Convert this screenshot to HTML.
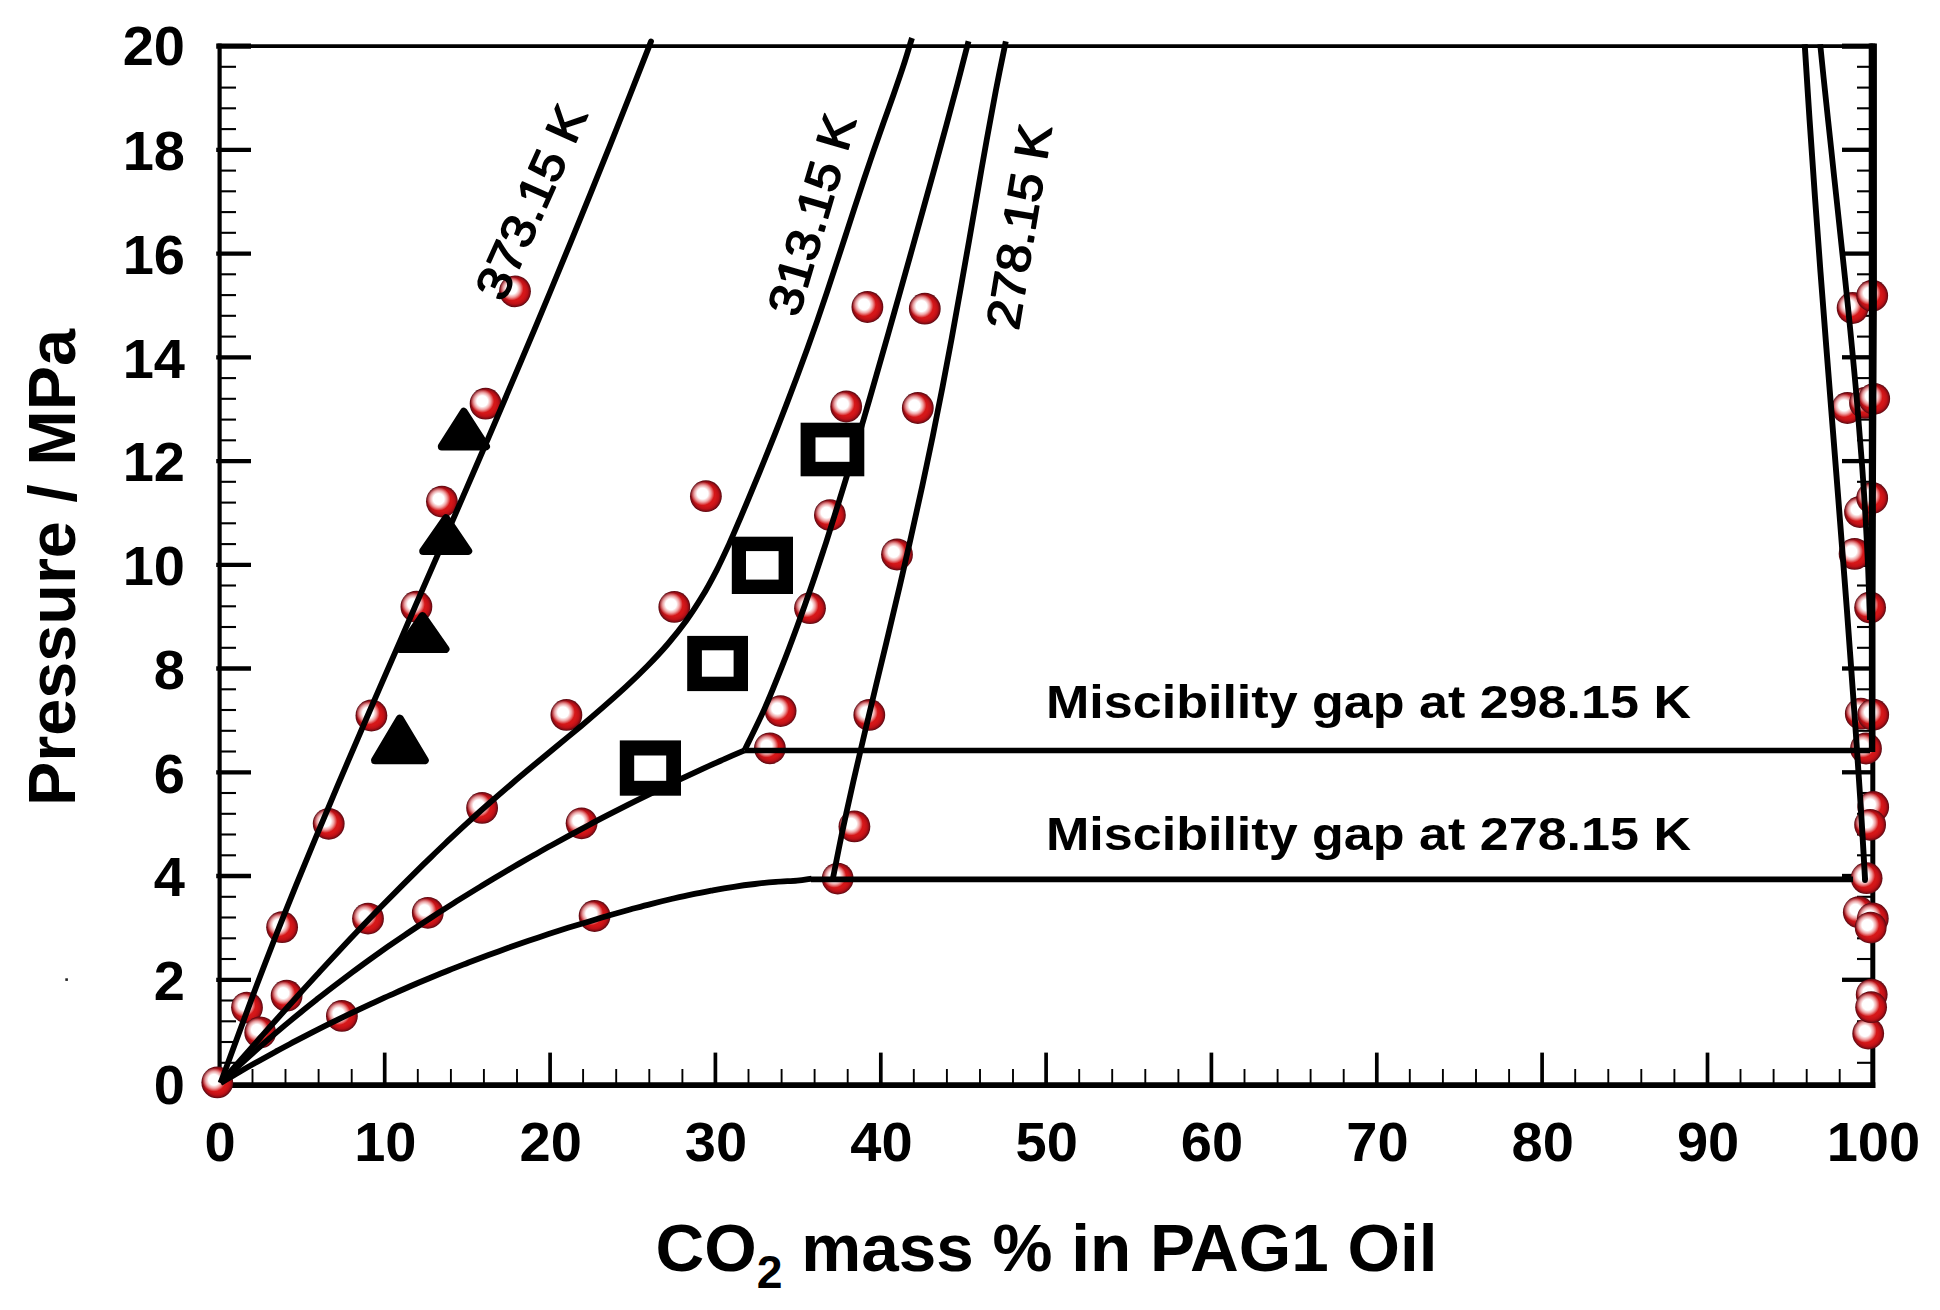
<!DOCTYPE html>
<html lang="en"><head><meta charset="utf-8"><title>CO2 solubility in PAG1 oil</title>
<style>html,body{margin:0;padding:0;background:#fff}svg{display:block}text{font-family:"Liberation Sans",Arial,Helvetica,sans-serif;font-weight:bold;fill:#000}</style>
</head><body>
<svg width="1940" height="1310" viewBox="0 0 1940 1310">
<defs><radialGradient id="g" cx="50%" cy="50%" r="50%"><stop offset="0" stop-color="#de1c1c"/><stop offset="0.62" stop-color="#d41618"/><stop offset="0.80" stop-color="#bd1016"/><stop offset="0.91" stop-color="#8c0c14"/><stop offset="1" stop-color="#540810"/></radialGradient><radialGradient id="h" cx="50%" cy="50%" r="50%"><stop offset="0" stop-color="#fff" stop-opacity="1"/><stop offset="0.46" stop-color="#fff" stop-opacity="1"/><stop offset="0.72" stop-color="#fff" stop-opacity="0.6"/><stop offset="1" stop-color="#fff" stop-opacity="0"/></radialGradient><g id="m"><circle r="15.9" fill="url(#g)"/><circle cx="-3.3" cy="-2.6" r="11.8" fill="url(#h)"/></g></defs>
<rect width="1940" height="1310" fill="#fff"/>
<g stroke="#000" fill="none" stroke-linecap="butt">
<line x1="219.6" y1="43.6" x2="219.6" y2="1087.9" stroke-width="4.2"/>
<line x1="1872.8" y1="43.6" x2="1872.8" y2="1087.9" stroke-width="5"/>
<line x1="217.5" y1="46.1" x2="1875.3" y2="46.1" stroke-width="3.7"/>
<line x1="217.5" y1="1085.1" x2="1875.3" y2="1085.1" stroke-width="5.6"/>
<line x1="219.6" y1="1062.8" x2="236" y2="1062.8" stroke-width="2.1"/>
<line x1="1872.8" y1="1062.8" x2="1857" y2="1062.8" stroke-width="2.1"/>
<line x1="219.6" y1="1042.0" x2="236" y2="1042.0" stroke-width="2.1"/>
<line x1="1872.8" y1="1042.0" x2="1857" y2="1042.0" stroke-width="2.1"/>
<line x1="219.6" y1="1021.3" x2="236" y2="1021.3" stroke-width="2.1"/>
<line x1="1872.8" y1="1021.3" x2="1857" y2="1021.3" stroke-width="2.1"/>
<line x1="219.6" y1="1000.5" x2="236" y2="1000.5" stroke-width="2.1"/>
<line x1="1872.8" y1="1000.5" x2="1857" y2="1000.5" stroke-width="2.1"/>
<line x1="216.2" y1="979.8" x2="251" y2="979.8" stroke-width="4.3"/>
<line x1="1872.8" y1="979.8" x2="1842" y2="979.8" stroke-width="4.3"/>
<line x1="219.6" y1="959.0" x2="236" y2="959.0" stroke-width="2.1"/>
<line x1="1872.8" y1="959.0" x2="1857" y2="959.0" stroke-width="2.1"/>
<line x1="219.6" y1="938.3" x2="236" y2="938.3" stroke-width="2.1"/>
<line x1="1872.8" y1="938.3" x2="1857" y2="938.3" stroke-width="2.1"/>
<line x1="219.6" y1="917.5" x2="236" y2="917.5" stroke-width="2.1"/>
<line x1="1872.8" y1="917.5" x2="1857" y2="917.5" stroke-width="2.1"/>
<line x1="219.6" y1="896.8" x2="236" y2="896.8" stroke-width="2.1"/>
<line x1="1872.8" y1="896.8" x2="1857" y2="896.8" stroke-width="2.1"/>
<line x1="216.2" y1="876.0" x2="251" y2="876.0" stroke-width="4.3"/>
<line x1="1872.8" y1="876.0" x2="1842" y2="876.0" stroke-width="4.3"/>
<line x1="219.6" y1="855.3" x2="236" y2="855.3" stroke-width="2.1"/>
<line x1="1872.8" y1="855.3" x2="1857" y2="855.3" stroke-width="2.1"/>
<line x1="219.6" y1="834.5" x2="236" y2="834.5" stroke-width="2.1"/>
<line x1="1872.8" y1="834.5" x2="1857" y2="834.5" stroke-width="2.1"/>
<line x1="219.6" y1="813.8" x2="236" y2="813.8" stroke-width="2.1"/>
<line x1="1872.8" y1="813.8" x2="1857" y2="813.8" stroke-width="2.1"/>
<line x1="219.6" y1="793.0" x2="236" y2="793.0" stroke-width="2.1"/>
<line x1="1872.8" y1="793.0" x2="1857" y2="793.0" stroke-width="2.1"/>
<line x1="216.2" y1="772.3" x2="251" y2="772.3" stroke-width="4.3"/>
<line x1="1872.8" y1="772.3" x2="1842" y2="772.3" stroke-width="4.3"/>
<line x1="219.6" y1="751.5" x2="236" y2="751.5" stroke-width="2.1"/>
<line x1="1872.8" y1="751.5" x2="1857" y2="751.5" stroke-width="2.1"/>
<line x1="219.6" y1="730.8" x2="236" y2="730.8" stroke-width="2.1"/>
<line x1="1872.8" y1="730.8" x2="1857" y2="730.8" stroke-width="2.1"/>
<line x1="219.6" y1="710.0" x2="236" y2="710.0" stroke-width="2.1"/>
<line x1="1872.8" y1="710.0" x2="1857" y2="710.0" stroke-width="2.1"/>
<line x1="219.6" y1="689.3" x2="236" y2="689.3" stroke-width="2.1"/>
<line x1="1872.8" y1="689.3" x2="1857" y2="689.3" stroke-width="2.1"/>
<line x1="216.2" y1="668.5" x2="251" y2="668.5" stroke-width="4.3"/>
<line x1="1872.8" y1="668.5" x2="1842" y2="668.5" stroke-width="4.3"/>
<line x1="219.6" y1="647.8" x2="236" y2="647.8" stroke-width="2.1"/>
<line x1="1872.8" y1="647.8" x2="1857" y2="647.8" stroke-width="2.1"/>
<line x1="219.6" y1="627.0" x2="236" y2="627.0" stroke-width="2.1"/>
<line x1="1872.8" y1="627.0" x2="1857" y2="627.0" stroke-width="2.1"/>
<line x1="219.6" y1="606.3" x2="236" y2="606.3" stroke-width="2.1"/>
<line x1="1872.8" y1="606.3" x2="1857" y2="606.3" stroke-width="2.1"/>
<line x1="219.6" y1="585.5" x2="236" y2="585.5" stroke-width="2.1"/>
<line x1="1872.8" y1="585.5" x2="1857" y2="585.5" stroke-width="2.1"/>
<line x1="216.2" y1="564.8" x2="251" y2="564.8" stroke-width="4.3"/>
<line x1="1872.8" y1="564.8" x2="1842" y2="564.8" stroke-width="4.3"/>
<line x1="219.6" y1="544.1" x2="236" y2="544.1" stroke-width="2.1"/>
<line x1="1872.8" y1="544.1" x2="1857" y2="544.1" stroke-width="2.1"/>
<line x1="219.6" y1="523.3" x2="236" y2="523.3" stroke-width="2.1"/>
<line x1="1872.8" y1="523.3" x2="1857" y2="523.3" stroke-width="2.1"/>
<line x1="219.6" y1="502.6" x2="236" y2="502.6" stroke-width="2.1"/>
<line x1="1872.8" y1="502.6" x2="1857" y2="502.6" stroke-width="2.1"/>
<line x1="219.6" y1="481.8" x2="236" y2="481.8" stroke-width="2.1"/>
<line x1="1872.8" y1="481.8" x2="1857" y2="481.8" stroke-width="2.1"/>
<line x1="216.2" y1="461.1" x2="251" y2="461.1" stroke-width="4.3"/>
<line x1="1872.8" y1="461.1" x2="1842" y2="461.1" stroke-width="4.3"/>
<line x1="219.6" y1="440.3" x2="236" y2="440.3" stroke-width="2.1"/>
<line x1="1872.8" y1="440.3" x2="1857" y2="440.3" stroke-width="2.1"/>
<line x1="219.6" y1="419.6" x2="236" y2="419.6" stroke-width="2.1"/>
<line x1="1872.8" y1="419.6" x2="1857" y2="419.6" stroke-width="2.1"/>
<line x1="219.6" y1="398.8" x2="236" y2="398.8" stroke-width="2.1"/>
<line x1="1872.8" y1="398.8" x2="1857" y2="398.8" stroke-width="2.1"/>
<line x1="219.6" y1="378.1" x2="236" y2="378.1" stroke-width="2.1"/>
<line x1="1872.8" y1="378.1" x2="1857" y2="378.1" stroke-width="2.1"/>
<line x1="216.2" y1="357.3" x2="251" y2="357.3" stroke-width="4.3"/>
<line x1="1872.8" y1="357.3" x2="1842" y2="357.3" stroke-width="4.3"/>
<line x1="219.6" y1="336.6" x2="236" y2="336.6" stroke-width="2.1"/>
<line x1="1872.8" y1="336.6" x2="1857" y2="336.6" stroke-width="2.1"/>
<line x1="219.6" y1="315.8" x2="236" y2="315.8" stroke-width="2.1"/>
<line x1="1872.8" y1="315.8" x2="1857" y2="315.8" stroke-width="2.1"/>
<line x1="219.6" y1="295.1" x2="236" y2="295.1" stroke-width="2.1"/>
<line x1="1872.8" y1="295.1" x2="1857" y2="295.1" stroke-width="2.1"/>
<line x1="219.6" y1="274.3" x2="236" y2="274.3" stroke-width="2.1"/>
<line x1="1872.8" y1="274.3" x2="1857" y2="274.3" stroke-width="2.1"/>
<line x1="216.2" y1="253.6" x2="251" y2="253.6" stroke-width="4.3"/>
<line x1="1872.8" y1="253.6" x2="1842" y2="253.6" stroke-width="4.3"/>
<line x1="219.6" y1="232.8" x2="236" y2="232.8" stroke-width="2.1"/>
<line x1="1872.8" y1="232.8" x2="1857" y2="232.8" stroke-width="2.1"/>
<line x1="219.6" y1="212.1" x2="236" y2="212.1" stroke-width="2.1"/>
<line x1="1872.8" y1="212.1" x2="1857" y2="212.1" stroke-width="2.1"/>
<line x1="219.6" y1="191.3" x2="236" y2="191.3" stroke-width="2.1"/>
<line x1="1872.8" y1="191.3" x2="1857" y2="191.3" stroke-width="2.1"/>
<line x1="219.6" y1="170.6" x2="236" y2="170.6" stroke-width="2.1"/>
<line x1="1872.8" y1="170.6" x2="1857" y2="170.6" stroke-width="2.1"/>
<line x1="216.2" y1="149.8" x2="251" y2="149.8" stroke-width="4.3"/>
<line x1="1872.8" y1="149.8" x2="1842" y2="149.8" stroke-width="4.3"/>
<line x1="219.6" y1="129.1" x2="236" y2="129.1" stroke-width="2.1"/>
<line x1="1872.8" y1="129.1" x2="1857" y2="129.1" stroke-width="2.1"/>
<line x1="219.6" y1="108.3" x2="236" y2="108.3" stroke-width="2.1"/>
<line x1="1872.8" y1="108.3" x2="1857" y2="108.3" stroke-width="2.1"/>
<line x1="219.6" y1="87.6" x2="236" y2="87.6" stroke-width="2.1"/>
<line x1="1872.8" y1="87.6" x2="1857" y2="87.6" stroke-width="2.1"/>
<line x1="219.6" y1="66.8" x2="236" y2="66.8" stroke-width="2.1"/>
<line x1="1872.8" y1="66.8" x2="1857" y2="66.8" stroke-width="2.1"/>
<line x1="216.2" y1="46.2" x2="251" y2="46.2" stroke-width="5.2"/>
<line x1="1872.8" y1="46.2" x2="1842" y2="46.2" stroke-width="5.2"/>
<line x1="252.5" y1="1085.1" x2="252.5" y2="1069" stroke-width="1.9"/>
<line x1="285.5" y1="1085.1" x2="285.5" y2="1069" stroke-width="1.9"/>
<line x1="318.6" y1="1085.1" x2="318.6" y2="1069" stroke-width="1.9"/>
<line x1="351.7" y1="1085.1" x2="351.7" y2="1069" stroke-width="1.9"/>
<line x1="384.7" y1="1085.1" x2="384.7" y2="1052.6" stroke-width="3.7"/>
<line x1="417.8" y1="1085.1" x2="417.8" y2="1069" stroke-width="1.9"/>
<line x1="450.9" y1="1085.1" x2="450.9" y2="1069" stroke-width="1.9"/>
<line x1="483.9" y1="1085.1" x2="483.9" y2="1069" stroke-width="1.9"/>
<line x1="517.0" y1="1085.1" x2="517.0" y2="1069" stroke-width="1.9"/>
<line x1="550.1" y1="1085.1" x2="550.1" y2="1052.6" stroke-width="3.7"/>
<line x1="583.1" y1="1085.1" x2="583.1" y2="1069" stroke-width="1.9"/>
<line x1="616.2" y1="1085.1" x2="616.2" y2="1069" stroke-width="1.9"/>
<line x1="649.3" y1="1085.1" x2="649.3" y2="1069" stroke-width="1.9"/>
<line x1="682.4" y1="1085.1" x2="682.4" y2="1069" stroke-width="1.9"/>
<line x1="715.4" y1="1085.1" x2="715.4" y2="1052.6" stroke-width="3.7"/>
<line x1="748.5" y1="1085.1" x2="748.5" y2="1069" stroke-width="1.9"/>
<line x1="781.6" y1="1085.1" x2="781.6" y2="1069" stroke-width="1.9"/>
<line x1="814.6" y1="1085.1" x2="814.6" y2="1069" stroke-width="1.9"/>
<line x1="847.7" y1="1085.1" x2="847.7" y2="1069" stroke-width="1.9"/>
<line x1="880.8" y1="1085.1" x2="880.8" y2="1052.6" stroke-width="3.7"/>
<line x1="913.8" y1="1085.1" x2="913.8" y2="1069" stroke-width="1.9"/>
<line x1="946.9" y1="1085.1" x2="946.9" y2="1069" stroke-width="1.9"/>
<line x1="980.0" y1="1085.1" x2="980.0" y2="1069" stroke-width="1.9"/>
<line x1="1013.0" y1="1085.1" x2="1013.0" y2="1069" stroke-width="1.9"/>
<line x1="1046.1" y1="1085.1" x2="1046.1" y2="1052.6" stroke-width="3.7"/>
<line x1="1079.2" y1="1085.1" x2="1079.2" y2="1069" stroke-width="1.9"/>
<line x1="1112.2" y1="1085.1" x2="1112.2" y2="1069" stroke-width="1.9"/>
<line x1="1145.3" y1="1085.1" x2="1145.3" y2="1069" stroke-width="1.9"/>
<line x1="1178.4" y1="1085.1" x2="1178.4" y2="1069" stroke-width="1.9"/>
<line x1="1211.4" y1="1085.1" x2="1211.4" y2="1052.6" stroke-width="3.7"/>
<line x1="1244.5" y1="1085.1" x2="1244.5" y2="1069" stroke-width="1.9"/>
<line x1="1277.6" y1="1085.1" x2="1277.6" y2="1069" stroke-width="1.9"/>
<line x1="1310.6" y1="1085.1" x2="1310.6" y2="1069" stroke-width="1.9"/>
<line x1="1343.7" y1="1085.1" x2="1343.7" y2="1069" stroke-width="1.9"/>
<line x1="1376.8" y1="1085.1" x2="1376.8" y2="1052.6" stroke-width="3.7"/>
<line x1="1409.8" y1="1085.1" x2="1409.8" y2="1069" stroke-width="1.9"/>
<line x1="1442.9" y1="1085.1" x2="1442.9" y2="1069" stroke-width="1.9"/>
<line x1="1476.0" y1="1085.1" x2="1476.0" y2="1069" stroke-width="1.9"/>
<line x1="1509.1" y1="1085.1" x2="1509.1" y2="1069" stroke-width="1.9"/>
<line x1="1542.1" y1="1085.1" x2="1542.1" y2="1052.6" stroke-width="3.7"/>
<line x1="1575.2" y1="1085.1" x2="1575.2" y2="1069" stroke-width="1.9"/>
<line x1="1608.3" y1="1085.1" x2="1608.3" y2="1069" stroke-width="1.9"/>
<line x1="1641.3" y1="1085.1" x2="1641.3" y2="1069" stroke-width="1.9"/>
<line x1="1674.4" y1="1085.1" x2="1674.4" y2="1069" stroke-width="1.9"/>
<line x1="1707.5" y1="1085.1" x2="1707.5" y2="1052.6" stroke-width="3.7"/>
<line x1="1740.5" y1="1085.1" x2="1740.5" y2="1069" stroke-width="1.9"/>
<line x1="1773.6" y1="1085.1" x2="1773.6" y2="1069" stroke-width="1.9"/>
<line x1="1806.7" y1="1085.1" x2="1806.7" y2="1069" stroke-width="1.9"/>
<line x1="1839.7" y1="1085.1" x2="1839.7" y2="1069" stroke-width="1.9"/>
</g>
<use href="#m" x="217.3" y="1082.4"/>
<use href="#m" x="247" y="1007.6"/>
<use href="#m" x="260.2" y="1032.4"/>
<use href="#m" x="286.6" y="995.7"/>
<use href="#m" x="341.9" y="1015.9"/>
<use href="#m" x="282.1" y="927.2"/>
<use href="#m" x="368" y="918.6"/>
<use href="#m" x="427.8" y="912.8"/>
<use href="#m" x="328.7" y="823.8"/>
<use href="#m" x="594.6" y="916"/>
<use href="#m" x="581.6" y="823.3"/>
<use href="#m" x="482.1" y="807.9"/>
<use href="#m" x="371.4" y="715.5"/>
<use href="#m" x="566.4" y="714.9"/>
<use href="#m" x="416.4" y="606.7"/>
<use href="#m" x="441.9" y="501.6"/>
<use href="#m" x="485.6" y="403.7"/>
<use href="#m" x="515" y="291.3"/>
<use href="#m" x="705.9" y="496.2"/>
<use href="#m" x="674.3" y="606.9"/>
<use href="#m" x="810" y="608.2"/>
<use href="#m" x="829.9" y="515.1"/>
<use href="#m" x="897" y="554.5"/>
<use href="#m" x="846.2" y="406.5"/>
<use href="#m" x="917.8" y="408"/>
<use href="#m" x="867.4" y="307"/>
<use href="#m" x="924.8" y="308.7"/>
<use href="#m" x="780.6" y="711.1"/>
<use href="#m" x="869.3" y="714.9"/>
<use href="#m" x="769.9" y="748.3"/>
<use href="#m" x="854.4" y="826.4"/>
<use href="#m" x="837.7" y="878.6"/>
<use href="#m" x="1852.6" y="308"/>
<use href="#m" x="1872.2" y="295.7"/>
<use href="#m" x="1847.4" y="408"/>
<use href="#m" x="1865" y="402.9"/>
<use href="#m" x="1874.2" y="398.8"/>
<use href="#m" x="1860" y="512"/>
<use href="#m" x="1872.2" y="498"/>
<use href="#m" x="1854.6" y="553.9"/>
<use href="#m" x="1870.1" y="607.5"/>
<use href="#m" x="1860.8" y="713.7"/>
<use href="#m" x="1873.2" y="714.7"/>
<use href="#m" x="1866" y="748.5"/>
<use href="#m" x="1873.2" y="807"/>
<use href="#m" x="1870.1" y="824.8"/>
<use href="#m" x="1866.6" y="878.2"/>
<use href="#m" x="1858.8" y="912.2"/>
<use href="#m" x="1872.8" y="918.4"/>
<use href="#m" x="1870.7" y="927.6"/>
<use href="#m" x="1871.7" y="994.6"/>
<use href="#m" x="1868.2" y="1033.6"/>
<use href="#m" x="1871.1" y="1007.2"/>
<path d="M744.5,750.5 H1870" stroke="#000" stroke-width="5.7" fill="none"/>
<path d="M811,879.4 H1853" stroke="#000" stroke-width="5.7" fill="none"/>
<path d="M220.6,1082.9 C223.6,1074.7 232.7,1050.0 238.8,1033.5 C244.9,1017.1 250.9,1000.6 257.1,984.2 C263.4,967.7 269.8,951.2 276.2,934.8 C282.7,918.3 289.3,901.9 296.0,885.4 C302.7,869.0 309.5,852.5 316.4,836.0 C323.3,819.6 330.2,803.1 337.2,786.7 C344.2,770.2 351.2,753.8 358.3,737.3 C365.4,720.8 372.5,704.4 379.7,687.9 C386.8,671.5 394.0,655.0 401.2,638.6 C408.3,622.1 415.5,605.6 422.7,589.2 C429.9,572.7 437.1,556.3 444.2,539.8 C451.4,523.4 458.5,506.9 465.7,490.4 C472.8,474.0 479.9,457.5 487.0,441.1 C494.1,424.6 501.1,408.2 508.1,391.7 C515.1,375.2 522.1,358.8 529.0,342.3 C536.0,325.9 542.9,309.4 549.7,293.0 C556.6,276.5 563.4,260.0 570.1,243.6 C576.9,227.1 583.6,210.7 590.3,194.2 C597.0,177.8 603.6,161.3 610.2,144.8 C616.8,128.4 623.3,111.9 629.8,95.5 C636.3,79.0 645.8,54.8 649.2,46.1 C652.6,37.4 650.2,43.6 650.4,43.1" fill="none" stroke="#000" stroke-width="5.8" stroke-linecap="butt" stroke-linejoin="round"/>
<path d="M220.6,1082.9 C223.9,1079.2 233.7,1067.9 240.3,1060.4 C246.8,1053.0 253.4,1045.5 260.0,1038.0 C266.6,1030.6 273.2,1023.1 279.9,1015.7 C286.5,1008.3 293.2,1000.9 299.9,993.5 C306.5,986.1 313.3,978.8 320.0,971.4 C326.7,964.1 333.5,956.8 340.3,949.5 C347.1,942.2 353.9,935.0 360.8,927.8 C367.7,920.6 374.6,913.4 381.5,906.3 C388.5,899.2 395.5,892.1 402.5,885.1 C409.5,878.1 416.6,871.1 423.7,864.1 C430.9,857.2 438.0,850.3 445.2,843.5 C452.5,836.7 459.7,829.9 467.1,823.2 C474.4,816.5 481.8,809.8 489.2,803.3 C496.7,796.7 504.2,790.2 511.8,783.7 C519.3,777.3 527.0,770.9 534.6,764.6 C542.3,758.2 550.0,751.9 557.6,745.5 C565.3,739.2 573.0,732.8 580.6,726.4 C588.3,720.0 595.9,713.5 603.4,706.9 C610.9,700.4 618.4,693.7 625.8,686.9 C633.1,680.1 640.4,673.1 647.4,666.0 C654.4,658.9 661.3,651.6 667.8,644.0 C674.2,636.5 680.4,628.8 686.2,620.8 C692.0,612.8 697.3,604.5 702.4,596.1 C707.5,587.7 712.1,579.0 716.6,570.3 C721.1,561.5 725.2,552.5 729.3,543.6 C733.4,534.6 737.2,525.4 741.1,516.3 C745.0,507.2 748.8,498.0 752.6,488.8 C756.5,479.5 760.3,470.3 764.1,461.0 C767.8,451.7 771.6,442.4 775.3,433.1 C779.0,423.8 782.6,414.4 786.2,405.1 C789.8,395.7 793.4,386.3 796.9,377.0 C800.4,367.6 803.9,358.2 807.3,348.8 C810.7,339.4 814.0,330.0 817.3,320.6 C820.5,311.2 823.7,301.8 826.9,292.4 C830.0,283.0 833.1,273.6 836.2,264.2 C839.3,254.8 842.3,245.4 845.4,236.0 C848.5,226.6 851.5,217.2 854.6,207.7 C857.7,198.3 860.8,188.9 863.9,179.5 C867.1,170.1 870.3,160.7 873.5,151.3 C876.8,141.8 880.1,132.4 883.4,123.0 C886.8,113.6 890.2,104.1 893.5,94.7 C896.8,85.3 900.1,75.8 903.2,66.4 C906.3,56.9 910.5,42.7 912.0,38.0" fill="none" stroke="#000" stroke-width="5.8" stroke-linecap="butt" stroke-linejoin="round"/>
<path d="M220.6,1082.9 C223.2,1080.4 231.0,1073.0 236.3,1068.1 C241.6,1063.2 246.9,1058.4 252.3,1053.6 C257.6,1048.8 263.0,1044.1 268.4,1039.4 C273.8,1034.7 279.3,1030.0 284.8,1025.4 C290.3,1020.8 295.8,1016.3 301.4,1011.7 C306.9,1007.2 312.5,1002.8 318.2,998.3 C323.8,993.9 329.4,989.5 335.1,985.2 C340.8,980.9 346.5,976.6 352.3,972.3 C358.0,968.0 363.8,963.8 369.6,959.6 C375.4,955.5 381.3,951.3 387.1,947.2 C393.0,943.1 398.9,939.1 404.8,935.1 C410.8,931.0 416.7,927.1 422.7,923.1 C428.7,919.2 434.7,915.3 440.7,911.4 C446.7,907.5 452.8,903.7 458.8,899.9 C464.9,896.1 471.0,892.3 477.1,888.6 C483.2,884.8 489.4,881.1 495.5,877.4 C501.7,873.8 507.9,870.1 514.1,866.5 C520.3,862.9 526.5,859.4 532.8,855.8 C539.0,852.3 545.3,848.7 551.6,845.3 C557.9,841.8 564.2,838.3 570.5,834.9 C576.8,831.5 583.1,828.1 589.5,824.7 C595.8,821.3 602.2,818.0 608.6,814.7 C615.0,811.4 621.4,808.1 627.8,804.9 C634.2,801.6 640.6,798.4 647.1,795.3 C653.5,792.1 660.0,789.0 666.4,785.8 C672.9,782.7 679.4,779.7 685.9,776.6 C692.3,773.6 698.8,770.6 705.3,767.6 C711.9,764.7 718.4,761.7 724.9,758.9 C731.4,756.0 741.2,751.7 744.5,750.3" fill="none" stroke="#000" stroke-width="5.8" stroke-linecap="butt" stroke-linejoin="round"/>
<path d="M744.5,750.3 C747.9,743.3 758.4,722.5 764.6,708.6 C770.8,694.7 776.3,680.8 781.8,666.9 C787.3,653.0 792.5,639.1 797.6,625.2 C802.7,611.3 807.6,597.4 812.4,583.5 C817.2,569.6 821.7,555.7 826.3,541.8 C830.8,527.9 835.1,514.0 839.4,500.1 C843.8,486.2 848.0,472.3 852.1,458.4 C856.3,444.5 860.4,430.6 864.4,416.7 C868.5,402.8 872.5,388.8 876.5,374.9 C880.5,361.0 884.5,347.1 888.4,333.2 C892.3,319.3 896.3,305.4 900.2,291.5 C904.1,277.6 908.0,263.7 911.9,249.8 C915.8,235.9 919.7,222.0 923.5,208.1 C927.4,194.2 931.3,180.3 935.1,166.4 C938.9,152.5 942.7,138.6 946.5,124.7 C950.2,110.8 954.0,96.9 957.7,83.0 C961.3,69.1 966.7,48.3 968.5,41.3" fill="none" stroke="#000" stroke-width="5.8" stroke-linecap="butt" stroke-linejoin="round"/>
<path d="M220.6,1082.9 C223.7,1081.1 232.8,1075.7 239.0,1072.2 C245.1,1068.6 251.3,1065.1 257.5,1061.7 C263.7,1058.2 269.9,1054.8 276.1,1051.4 C282.3,1048.0 288.6,1044.7 294.8,1041.4 C301.1,1038.1 307.4,1034.8 313.7,1031.6 C320.0,1028.4 326.3,1025.2 332.7,1022.1 C339.0,1019.0 345.4,1015.9 351.8,1012.8 C358.2,1009.8 364.6,1006.8 371.0,1003.8 C377.4,1000.9 383.8,997.9 390.3,995.1 C396.8,992.2 403.2,989.3 409.7,986.5 C416.2,983.7 422.7,981.0 429.3,978.3 C435.8,975.6 442.3,972.9 448.9,970.3 C455.5,967.6 462.0,965.1 468.6,962.5 C475.2,960.0 481.8,957.5 488.5,955.0 C495.1,952.6 501.8,950.2 508.4,947.8 C515.1,945.4 521.8,943.1 528.5,940.8 C535.2,938.6 541.9,936.3 548.6,934.1 C555.3,931.9 562.1,929.8 568.8,927.6 C575.6,925.5 582.4,923.4 589.2,921.4 C595.9,919.3 602.8,917.3 609.6,915.3 C616.4,913.4 623.2,911.4 630.1,909.5 C636.9,907.7 643.8,905.8 650.7,904.1 C657.5,902.3 664.4,900.6 671.3,899.0 C678.3,897.4 685.2,895.8 692.1,894.4 C699.0,892.9 706.0,891.6 712.9,890.3 C719.9,889.0 726.9,887.8 733.9,886.8 C740.9,885.7 747.9,884.8 754.9,884.0 C761.9,883.1 768.9,882.4 775.9,881.9 C783.0,881.3 791.2,881.1 797.1,880.6 C803.0,880.1 809.1,878.9 811.5,878.6" fill="none" stroke="#000" stroke-width="5.8" stroke-linecap="butt" stroke-linejoin="round"/>
<path d="M832.4,881.0 C834.1,872.8 838.9,848.1 842.3,831.6 C845.8,815.1 849.5,798.7 853.2,782.2 C857.0,765.7 860.8,749.3 864.7,732.8 C868.6,716.4 872.6,699.9 876.5,683.4 C880.5,667.0 884.5,650.5 888.4,634.0 C892.3,617.6 896.2,601.1 900.1,584.6 C903.9,568.2 907.7,551.7 911.4,535.2 C915.1,518.8 918.7,502.3 922.3,485.8 C925.8,469.4 929.3,452.9 932.7,436.5 C936.0,420.0 939.3,403.5 942.5,387.1 C945.7,370.6 948.8,354.1 951.8,337.7 C954.9,321.2 957.8,304.7 960.7,288.3 C963.7,271.8 966.5,255.3 969.4,238.9 C972.3,222.4 975.1,205.9 978.0,189.5 C980.8,173.0 983.7,156.6 986.7,140.1 C989.7,123.6 992.7,107.2 995.8,90.7 C999.0,74.2 1004.1,49.5 1005.8,41.3" fill="none" stroke="#000" stroke-width="5.8" stroke-linecap="butt" stroke-linejoin="round"/>
<path d="M1804.7,44.3 C1805.5,57.0 1807.9,94.9 1809.6,120.3 C1811.3,145.6 1813.1,170.9 1814.9,196.2 C1816.7,221.6 1818.6,246.9 1820.5,272.2 C1822.5,297.5 1824.4,322.9 1826.4,348.2 C1828.4,373.5 1830.4,398.8 1832.4,424.2 C1834.4,449.5 1836.4,474.8 1838.4,500.1 C1840.4,525.5 1842.4,550.8 1844.3,576.1 C1846.3,601.4 1848.2,626.8 1850.0,652.1 C1851.9,677.4 1853.7,702.7 1855.5,728.1 C1857.3,753.4 1859.0,778.7 1860.6,804.0 C1862.2,829.4 1864.4,867.3 1865.1,880.0" fill="none" stroke="#000" stroke-width="5.9" stroke-linecap="butt" stroke-linejoin="round"/>
<circle cx="1865" cy="880" r="2.9" fill="#000"/>
<path d="M1820.2,44.3 C1821.1,53.0 1823.7,79.2 1825.6,96.6 C1827.4,114.1 1829.3,131.5 1831.2,149.0 C1833.0,166.4 1834.9,183.9 1836.8,201.3 C1838.7,218.8 1840.6,236.2 1842.4,253.6 C1844.3,271.1 1846.1,288.5 1847.9,306.0 C1849.6,323.4 1851.4,340.9 1853.0,358.3 C1854.7,375.8 1856.3,393.2 1857.7,410.7 C1859.2,428.1 1860.6,445.5 1861.9,463.0 C1863.2,480.4 1864.4,497.9 1865.4,515.3 C1866.4,532.8 1867.3,550.2 1868.1,567.7 C1868.8,585.1 1869.6,611.3 1869.9,620.0" fill="none" stroke="#000" stroke-width="5.8" stroke-linecap="butt" stroke-linejoin="round"/>
<path d="M1868.7,43.6 L1876.9,43.6 L1876.9,300 L1875.3,620 L1875.3,752 L1868.9,752 Z" fill="#000"/>
<path d="M463.8,411.8 L486,446.5 L441.8,446.5 Z" fill="#000" stroke="#000" stroke-width="8" stroke-linejoin="round"/>
<path d="M446,518.3000000000001 L468.2,551 L423.2,551 Z" fill="#000" stroke="#000" stroke-width="8" stroke-linejoin="round"/>
<path d="M422.5,616.1 L445.5,649.1 L399.9,649.1 Z" fill="#000" stroke="#000" stroke-width="8" stroke-linejoin="round"/>
<path d="M399.8,718.6 L424.8,760.3 L375,760.3 Z" fill="#000" stroke="#000" stroke-width="8" stroke-linejoin="round"/>
<rect x="800.6" y="422.7" width="63.7" height="53.6" fill="#000"/>
<rect x="815.5" y="437.4" width="34.0" height="24.4" fill="#fff"/>
<rect x="731.8" y="536.7" width="61.2" height="57.3" fill="#000"/>
<rect x="746" y="551.1" width="32.6" height="28.5" fill="#fff"/>
<rect x="687.2" y="635.9" width="60.8" height="55.2" fill="#000"/>
<rect x="701.9" y="650.3" width="31.7" height="26.4" fill="#fff"/>
<rect x="619.8" y="740.4" width="61.2" height="55.3" fill="#000"/>
<rect x="634.2" y="755.5" width="32.0" height="25.3" fill="#fff"/>
<text x="185" y="1103.8" font-size="56" text-anchor="end">0</text>
<text x="185" y="1000.1" font-size="56" text-anchor="end">2</text>
<text x="185" y="896.3" font-size="56" text-anchor="end">4</text>
<text x="185" y="792.6" font-size="56" text-anchor="end">6</text>
<text x="185" y="688.8" font-size="56" text-anchor="end">8</text>
<text x="185" y="585.1" font-size="56" text-anchor="end">10</text>
<text x="185" y="481.4" font-size="56" text-anchor="end">12</text>
<text x="185" y="377.6" font-size="56" text-anchor="end">14</text>
<text x="185" y="273.9" font-size="56" text-anchor="end">16</text>
<text x="185" y="170.1" font-size="56" text-anchor="end">18</text>
<text x="185" y="64.9" font-size="56" text-anchor="end">20</text>
<text x="220.0" y="1160.8" font-size="56" text-anchor="middle">0</text>
<text x="385.3" y="1160.8" font-size="56" text-anchor="middle">10</text>
<text x="550.7" y="1160.8" font-size="56" text-anchor="middle">20</text>
<text x="716.0" y="1160.8" font-size="56" text-anchor="middle">30</text>
<text x="881.4" y="1160.8" font-size="56" text-anchor="middle">40</text>
<text x="1046.7" y="1160.8" font-size="56" text-anchor="middle">50</text>
<text x="1212.0" y="1160.8" font-size="56" text-anchor="middle">60</text>
<text x="1377.4" y="1160.8" font-size="56" text-anchor="middle">70</text>
<text x="1542.7" y="1160.8" font-size="56" text-anchor="middle">80</text>
<text x="1708.1" y="1160.8" font-size="56" text-anchor="middle">90</text>
<text x="1873.4" y="1160.8" font-size="56" text-anchor="middle">100</text>
<text x="1046.5" y="1271" font-size="67" text-anchor="middle" textLength="782" lengthAdjust="spacingAndGlyphs">CO<tspan font-size="46" dy="17">2</tspan><tspan dy="-17"> mass % in PAG1 Oil</tspan></text>
<text transform="translate(75.4,567.5) rotate(-90)" font-size="67" text-anchor="middle" textLength="477" lengthAdjust="spacingAndGlyphs">Pressure / MPa</text>
<text x="1046" y="717.8" font-size="47" textLength="645" lengthAdjust="spacingAndGlyphs">Miscibility gap at 298.15 K</text>
<text x="1046" y="850.3" font-size="47" textLength="645" lengthAdjust="spacingAndGlyphs">Miscibility gap at 278.15 K</text>
<text transform="translate(503.8,303) rotate(-65.9)" font-size="47" style="font-weight:normal" stroke="#000" stroke-width="1.6" stroke-linejoin="round" textLength="206.5" lengthAdjust="spacingAndGlyphs">373.15 K</text>
<text transform="translate(798.2,318.3) rotate(-73.6)" font-size="47" style="font-weight:normal" stroke="#000" stroke-width="1.6" stroke-linejoin="round" textLength="206.5" lengthAdjust="spacingAndGlyphs">313.15 K</text>
<text transform="translate(1018.2,331.3) rotate(-80.6)" font-size="47" style="font-weight:normal" stroke="#000" stroke-width="1.6" stroke-linejoin="round" textLength="206.5" lengthAdjust="spacingAndGlyphs">278.15 K</text>
<rect x="65.3" y="978.3" width="2.6" height="2.6" fill="#222"/>
</svg></body></html>
